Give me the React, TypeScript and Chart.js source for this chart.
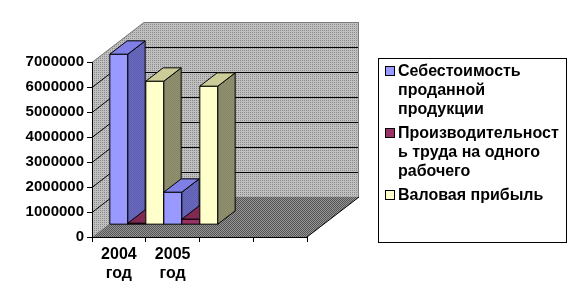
import React, { useEffect, useRef } from "react";
import { Chart, registerables } from "chart.js";

Chart.register(...registerables);

// ---------- data ----------
const categories: (string | string[])[] = [["2004", "год"], ["2005", "год"], "", ""];
const seriesNames = [
  "Себестоимость проданной продукции",
  "Производительность труда на одного рабочего",
  "Валовая прибыль",
];
const costValues = [6800000, 1280000];
const productivityValues = [40000, 220000];
const grossProfitValues = [5720000, 5520000];
const yMin = 0;
const yMax = 7000000;
const yStep = 1000000;

// ---------- style ----------
const DEPTH_X = 52;
const DEPTH_Y = -40;
const seriesColors = [
  { front: "#9999ff", sideA: "#3d3d80", sideB: "#8c8cf0", topA: "#6666cc", topB: "#9999ff" },
  { front: "#993366", sideA: "#5c1f3d", sideB: "#993366", topA: "#66203f", topB: "#993366" },
  { front: "#ffffcc", sideA: "#66664d", sideB: "#b3b38a", topA: "#b3b380", topB: "#e6e6b3" },
];

function makePattern(ctx: CanvasRenderingContext2D, base: string, dot: string, kind: "checker" | "dots") {
  const c = document.createElement("canvas");
  c.width = 4;
  c.height = 4;
  const g = c.getContext("2d")!;
  g.fillStyle = base;
  g.fillRect(0, 0, 4, 4);
  g.fillStyle = dot;
  if (kind === "checker") {
    for (let yy = 0; yy < 4; yy++)
      for (let xx = 0; xx < 4; xx++) if ((xx + yy) % 2 === 0) g.fillRect(xx, yy, 1, 1);
  } else {
    g.fillRect(0, 0, 1, 1);
    g.fillRect(2, 0, 1, 1);
    g.fillRect(0, 2, 1, 1);
    g.fillRect(2, 2, 1, 1);
  }
  return ctx.createPattern(c, "repeat")!;
}

function poly(ctx: CanvasRenderingContext2D, pts: number[][], fill: any, stroke?: string) {
  ctx.beginPath();
  ctx.moveTo(pts[0][0], pts[0][1]);
  for (let i = 1; i < pts.length; i++) ctx.lineTo(pts[i][0], pts[i][1]);
  ctx.closePath();
  if (fill) {
    ctx.fillStyle = fill;
    ctx.fill();
  }
  if (stroke) {
    ctx.strokeStyle = stroke;
    ctx.lineWidth = 1;
    ctx.stroke();
  }
}

const threeDPlugin = {
  id: "threeD",
  beforeDraw(chart: any) {
    const { ctx, chartArea, scales } = chart;
    const { left, right, top, bottom } = chartArea;
    const y = scales.y;
    const dx = DEPTH_X, dy = DEPTH_Y;
    const wall = makePattern(ctx, "#c0c0c0", "#8a8a8a", "dots");
    const floor = makePattern(ctx, "#959595", "#555555", "checker");
    ctx.save();
    poly(ctx, [[left, bottom], [left, top], [left + dx, top + dy], [left + dx, bottom + dy]], wall);
    poly(ctx, [[left + dx, top + dy], [right + dx, top + dy], [right + dx, bottom + dy], [left + dx, bottom + dy]], wall);
    poly(ctx, [[left, bottom], [right, bottom], [right + dx, bottom + dy], [left + dx, bottom + dy]], floor);
    // grid lines on walls
    ctx.lineWidth = 1;
    y.ticks.forEach((t: any) => {
      if (t.value <= yMin || t.value >= yMax) return;
      const py = Math.round(y.getPixelForValue(t.value)) + 0.5;
      ctx.beginPath();
      ctx.moveTo(left, py);
      ctx.lineTo(left + dx, py + dy);
      ctx.lineTo(right + dx, py + dy);
      ctx.strokeStyle = "#000";
      ctx.stroke();
    });
    // outlines
    ctx.strokeStyle = "#7a7a7a";
    ctx.beginPath();
    ctx.moveTo(left, top + 0.5);
    ctx.lineTo(left + dx, top + dy + 0.5);
    ctx.lineTo(right + dx - 0.5, top + dy + 0.5);
    ctx.lineTo(right + dx - 0.5, bottom + dy);
    ctx.stroke();
    ctx.strokeStyle = "#000";
    ctx.beginPath();
    ctx.moveTo(right, bottom);
    ctx.lineTo(right + dx, bottom + dy);
    ctx.stroke();
    ctx.restore();
  },
  beforeDatasetDraw() {
    return false;
  },
  afterDatasetsDraw(chart: any) {
    const { ctx } = chart;
    const bdx = DEPTH_X / 3, bdy = DEPTH_Y / 3;
    const items: any[] = [];
    chart.data.datasets.forEach((ds: any, di: number) => {
      const meta = chart.getDatasetMeta(di);
      meta.data.forEach((el: any, i: number) => {
        if (ds.data[i] == null) return;
        items.push({ x: el.x, y: el.y, base: el.base, w: el.width, di });
      });
    });
    items.sort((a, b) => a.x - b.x);
    ctx.save();
    ctx.translate(bdx, bdy);
    items.forEach((it) => {
      const c = seriesColors[it.di];
      const l = Math.round(it.x - it.w / 2) + 0.5;
      const r = Math.round(it.x + it.w / 2) + 0.5;
      const t = Math.round(it.y) + 0.5;
      const b = Math.round(it.base) + 0.5;
      const side = makePattern(ctx, c.sideB, c.sideA, "checker");
      const topP = makePattern(ctx, c.topB, c.topA, "checker");
      poly(ctx, [[l, t], [r, t], [r, b], [l, b]], c.front, "#000");
      poly(ctx, [[r, t], [r + bdx, t + bdy], [r + bdx, b + bdy], [r, b]], side, "#000");
      poly(ctx, [[l, t], [r, t], [r + bdx, t + bdy], [l + bdx, t + bdy]], topP, "#000");
    });
    ctx.restore();
  },
  afterDraw(chart: any) {
    const { ctx } = chart;
    ctx.save();
    ctx.strokeStyle = "#000";
    ctx.lineWidth = 1;
    ctx.strokeRect(378.5, 58.5, 188, 184);
    ctx.font = "bold 16px 'Liberation Sans', Arial, sans-serif";
    ctx.textBaseline = "middle";
    ctx.fillStyle = "#000";
    const maxW = 166;
    const wrap = (text: string) => {
      const words = text.split(" ");
      const lines: string[] = [];
      let cur = "";
      words.forEach((w) => {
        const cand = cur ? cur + " " + w : w;
        if (ctx.measureText(cand).width <= maxW) {
          cur = cand;
          return;
        }
        if (cur) lines.push(cur);
        cur = "";
        let rest = w;
        while (ctx.measureText(rest).width > maxW) {
          let k = rest.length;
          while (k > 1 && ctx.measureText(rest.slice(0, k)).width > maxW) k--;
          lines.push(rest.slice(0, k));
          rest = rest.slice(k);
        }
        cur = rest;
      });
      if (cur) lines.push(cur);
      return lines;
    };
    let yy = 72;
    chart.data.datasets.forEach((ds: any, di: number) => {
      const lines = wrap(ds.label);
      ctx.fillStyle = seriesColors[di].front;
      ctx.fillRect(385.5, yy - 5.5, 9, 9);
      ctx.strokeStyle = "#000";
      ctx.strokeRect(385.5, yy - 5.5, 9, 9);
      ctx.fillStyle = "#000";
      lines.forEach((ln, k) => {
        ctx.fillText(ln, 398, yy + k * 19);
      });
      yy += lines.length * 19 + 5;
    });
    ctx.restore();
  },
};

export default function App() {
  const ref = useRef<HTMLCanvasElement>(null);
  useEffect(() => {
    const canvas = ref.current!;
    const xFont = { family: "'Liberation Sans', Arial, sans-serif", size: 16, weight: "bold" as const, lineHeight: 1.2 };
    const yFont = { family: "'Liberation Sans', Arial, sans-serif", size: 15, weight: "bold" as const, lineHeight: 1.2 };
    const chart = new Chart(canvas, {
      type: "bar",
      data: {
        labels: categories as any,
        datasets: [
          { label: seriesNames[0], data: costValues, backgroundColor: seriesColors[0].front },
          { label: seriesNames[1], data: productivityValues, backgroundColor: seriesColors[1].front },
          { label: seriesNames[2], data: grossProfitValues, backgroundColor: seriesColors[2].front },
        ],
      },
      options: {
        animation: false,
        responsive: false,
        devicePixelRatio: 1,
        layout: { padding: { left: 0, right: 269, top: 62, bottom: 0 } },
        datasets: { bar: { barPercentage: 1, categoryPercentage: 1 } },
        plugins: { legend: { display: false }, tooltip: { enabled: false } },
        scales: {
          x: {
            offset: true,
            grid: { display: true, drawOnChartArea: false, tickLength: 5, color: "#000", offset: true },
            border: { display: true, color: "#000" },
            ticks: { font: xFont, color: "#000", maxRotation: 0, autoSkip: false, padding: 3 },
            afterFit: (axis: any) => {
              axis.height = 64;
            },
          },
          y: {
            min: yMin,
            max: yMax,
            grid: { display: true, drawOnChartArea: false, tickLength: 5, color: "#000" },
            border: { display: true, color: "#000" },
            ticks: {
              stepSize: yStep,
              font: yFont,
              color: "#000",
              padding: 3,
              callback: (v: any) => String(v),
            },
            afterFit: (axis: any) => {
              axis.width = 92;
            },
          },
        },
      },
      plugins: [threeDPlugin as any],
    });
    return () => chart.destroy();
  }, []);
  return (
    <div style={{ position: "fixed", left: 0, top: 0, width: 576, height: 301, background: "#fff" }}>
      <canvas ref={ref} width={576} height={301} style={{ display: "block", width: 576, height: 301 }} />
    </div>
  );
}
